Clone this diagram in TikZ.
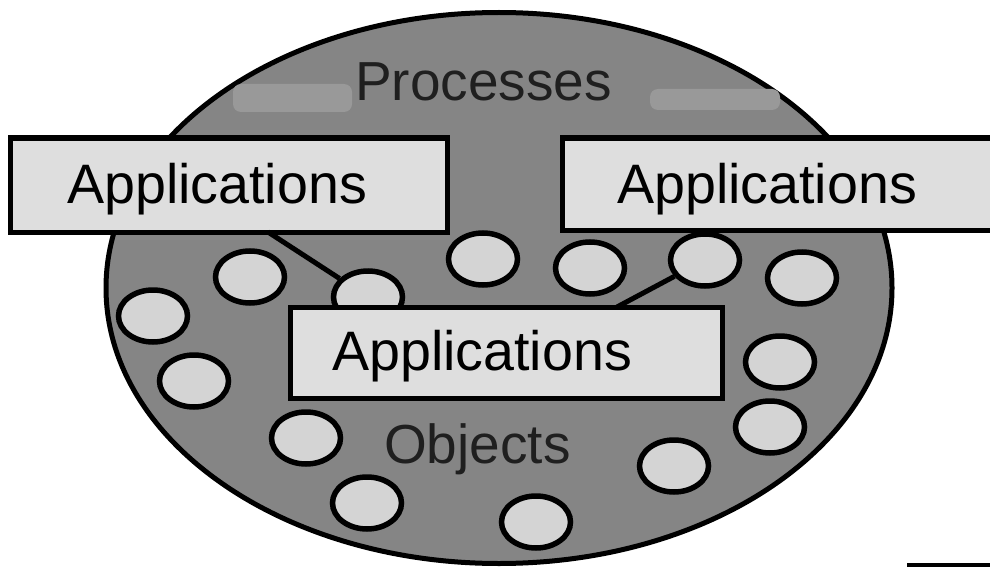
\documentclass[tikz,border=0pt]{standalone}
\usepackage{fontspec}
\setmainfont{Liberation Sans}
\usetikzlibrary{shapes.geometric}
\definecolor{bigfill}{gray}{0.52}
\definecolor{objfill}{gray}{0.83}
\definecolor{boxfill}{gray}{0.87}
\definecolor{smudge}{gray}{0.60}
\tikzset{
  obj/.style={ellipse, draw=black, line width=5.5pt, fill=objfill, minimum width=69pt, minimum height=52pt, inner sep=0pt},
  appbox/.style={rectangle, draw=black, line width=5pt, fill=boxfill, inner sep=0pt},
  lbl/.style={font=\fontsize{55.6}{60}\selectfont, inner sep=0pt, anchor=base west, text=black},
  biglbl/.style={font=\fontsize{55}{60}\selectfont, inner sep=0pt, anchor=base west, text=black!88},
  conn/.style={draw=black, line width=5pt}
}
\begin{document}
\begin{tikzpicture}[x=1pt,y=-1pt]
\useasboundingbox (0,0) rectangle (990,567);
\clip (0,0) rectangle (990,567);
% big ellipse
\node[ellipse, draw=black, line width=5pt, fill=bigfill, minimum width=786pt, minimum height=551pt, inner sep=0pt] (world) at (499,288) {};
% scan smudges near the title
\fill[smudge, rounded corners=8pt] (233,84) rectangle (352,112);
\fill[smudge, rounded corners=8pt] (650,89) rectangle (780,110);
% ellipse labels
\node[biglbl] (proc) at (355,101) {Processes};
\node[biglbl] (objs) at (384,463) {Objects};
% objects
\node[obj] (oA) at (153,316) {};
\node[obj] (oB) at (250,277) {};
\node[obj] (oC) at (368,297) {};
\node[obj] (oD) at (483,259) {};
\node[obj] (oE) at (590,268) {};
\node[obj] (oF) at (705,260) {};
\node[obj] (oG) at (802,278) {};
\node[obj] (oN) at (194,381) {};
\node[obj] (oH) at (780,362) {};
\node[obj] (oI) at (770,427) {};
\node[obj] (oJ) at (674,466) {};
\node[obj] (oK) at (306,438) {};
\node[obj] (oL) at (367,503) {};
\node[obj] (oM) at (536,522) {};
% application boxes
\node[appbox, minimum width=437pt, minimum height=94pt] (box1) at (228.5,185) {};
\node[appbox, minimum width=460pt, minimum height=92pt] (box2) at (792,184) {};
\node[appbox, minimum width=432pt, minimum height=91pt] (box3) at (506,352.5) {};
\node[lbl] (t1) at (67,203) {Applications};
\node[lbl] (t2) at (617,203) {Applications};
\node[lbl] (t3) at (332,370) {Applications};
% connectors
\coordinate (j1) at (268,232);
\coordinate (j3) at (617,307);
\draw[conn] (j1) -- (oC);
\draw[conn] (j3) -- (oF);
% scan mark at bottom right
\fill[black] (907,563) rectangle (990,567);
\end{tikzpicture}
\end{document}
